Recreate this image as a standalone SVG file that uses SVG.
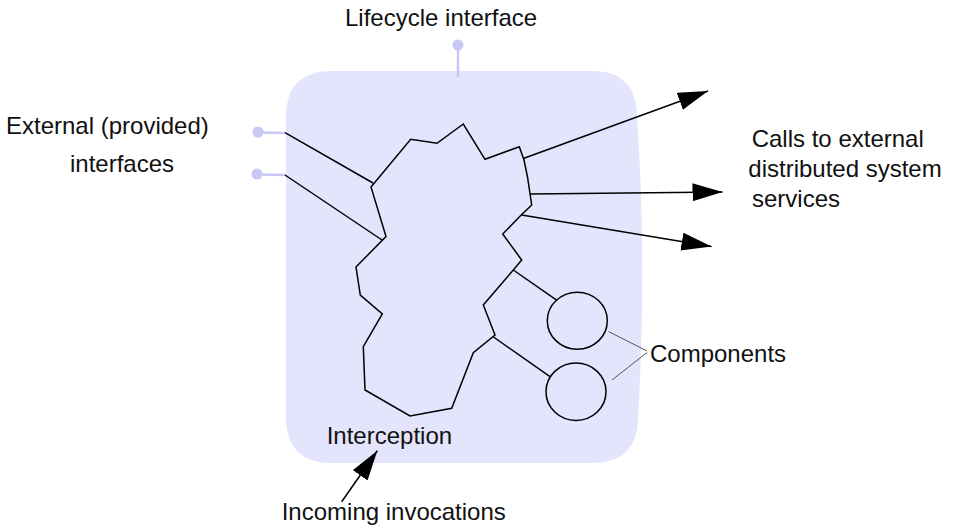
<svg xmlns="http://www.w3.org/2000/svg" width="955" height="527" viewBox="0 0 955 527">
  <style>
    .lbl { font-family: "Liberation Sans", Arial, sans-serif; font-size: 24px; fill: #111; }
    .edge { stroke: #000; stroke-width: 1.5; fill: none; }
    .thin { stroke: #555; stroke-width: 1; fill: none; }
    .lolli { stroke: #c8c8f6; stroke-width: 2.5; fill: none; }
    .lolli-dot { fill: #c8c8f6; stroke: none; }
    .shape { fill: none; stroke: #000; stroke-width: 1.5; stroke-linejoin: miter; }
  </style>
  <defs>
    <marker id="arrow" markerUnits="userSpaceOnUse" markerWidth="31" markerHeight="19" refX="30" refY="9" orient="auto">
      <path d="M0,0 L30,9 L0,18 Z" fill="#000"/>
    </marker>
  </defs>
  <rect width="955" height="527" fill="#fff"/>

  <g id="container">
    <path d="M 332,71 L 592,71 Q 636,71 637,115 Q 647,265 638,420 Q 636,463 592,463 L 332,463 Q 286,463 286,417 L 286,117 Q 286,71 332,71 Z" fill="#e4e4fc"/>
  </g>

  <g id="lifecycle-interface">
    <line class="lolli" x1="458" y1="47" x2="458" y2="77"/>
    <circle class="lolli-dot" cx="458" cy="45" r="5.5"/>
  </g>
  <g id="external-interface-1">
    <line class="lolli" x1="258" y1="132.5" x2="286" y2="133"/>
    <circle class="lolli-dot" cx="258" cy="132" r="5.5"/>
  </g>
  <g id="external-interface-2">
    <line class="lolli" x1="257" y1="174.5" x2="286" y2="175"/>
    <circle class="lolli-dot" cx="257" cy="174" r="5.5"/>
  </g>

  <g id="interception">
    <polygon class="shape" points="371,187 410.7,139.3 437,143.3 463.3,124 485,159.3 519.3,146.7 524,160 527.5,177 531.7,205 521.7,214.5 502.7,234 521.7,260 513.3,270 483.3,305 495,335 473.3,352.7 451.7,408.3 410,416 365,390 363.3,346.7 382.3,314 360.3,295 356,267 386,236.5"/>
  </g>

  <g id="component-1">
    <ellipse class="shape" cx="577.3" cy="320.7" rx="30" ry="28.5"/>
  </g>
  <g id="component-2">
    <ellipse class="shape" cx="576" cy="391.7" rx="30" ry="28.7"/>
  </g>

  <g id="connectors">
    <line class="edge" x1="285" y1="132.7" x2="373" y2="183"/>
    <line class="edge" x1="285" y1="175" x2="382" y2="240"/>
    <line class="edge" x1="524" y1="158.3" x2="708" y2="91" marker-end="url(#arrow)"/>
    <line class="edge" x1="530" y1="194" x2="722.5" y2="192" marker-end="url(#arrow)"/>
    <line class="edge" x1="521.7" y1="215" x2="711.5" y2="246.5" marker-end="url(#arrow)"/>
    <line class="edge" x1="513.3" y1="270" x2="557.3" y2="300.7"/>
    <line class="edge" x1="493.5" y1="337" x2="550" y2="376.7"/>
    <line class="edge" x1="341.7" y1="501.7" x2="377.3" y2="450.7" marker-end="url(#arrow)"/>
    <line class="thin" x1="608.5" y1="331.5" x2="647" y2="351"/>
    <line class="thin" x1="612" y1="380" x2="647" y2="352.5"/>
  </g>

  <g id="labels">
    <text class="lbl" x="345" y="26">Lifecycle interface</text>
    <text class="lbl" x="6" y="134">External (provided)</text>
    <text class="lbl" x="70" y="171.7">interfaces</text>
    <text class="lbl" x="751.7" y="146.7">Calls to external</text>
    <text class="lbl" x="748.3" y="176.7">distributed system</text>
    <text class="lbl" x="752" y="206.7">services</text>
    <text class="lbl" x="650" y="361.7">Components</text>
    <text class="lbl" x="326.7" y="444">Interception</text>
    <text class="lbl" x="281.7" y="520">Incoming invocations</text>
  </g>
</svg>
